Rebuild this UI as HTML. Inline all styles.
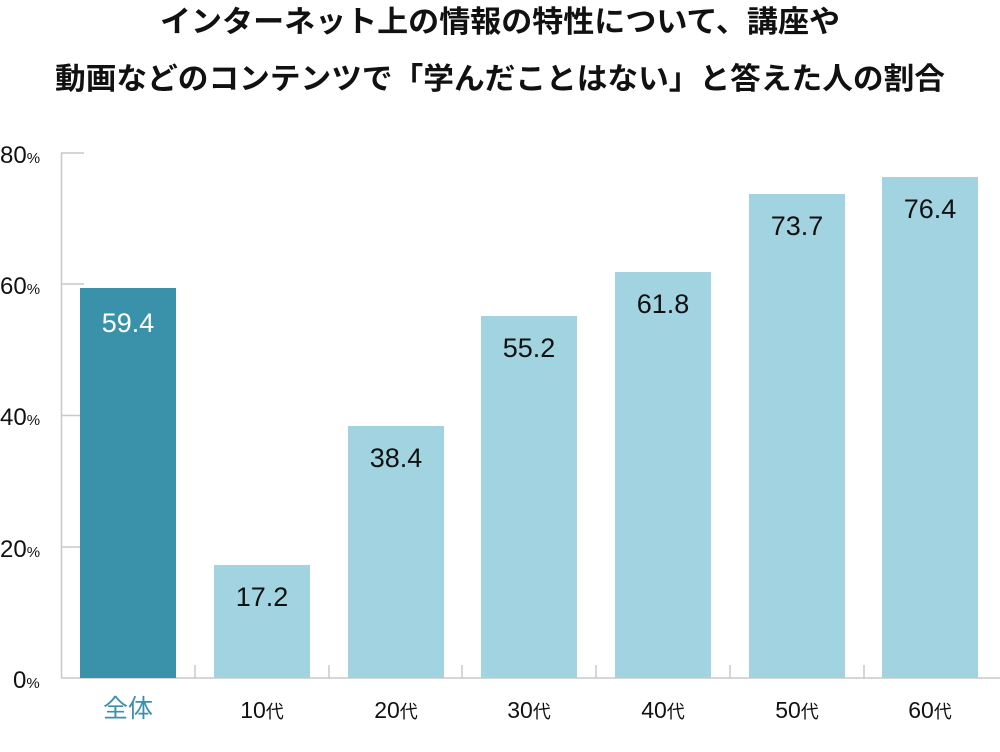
<!DOCTYPE html><html><head><meta charset="utf-8"><style>body{margin:0;background:#fff}</style></head><body>
<svg width="1000" height="747" xmlns="http://www.w3.org/2000/svg" style="font-family:'Liberation Sans','Noto Sans CJK JP',sans-serif">
<text x="160" y="32" font-size="30" font-weight="bold" fill="#111" textLength="680" lengthAdjust="spacingAndGlyphs" font-family="'Noto Sans CJK JP',sans-serif">インターネット上の情報の特性について、講座や</text>
<text x="55" y="89" font-size="30" font-weight="bold" fill="#111" textLength="890" lengthAdjust="spacingAndGlyphs" font-family="'Noto Sans CJK JP',sans-serif">動画などのコンテンツで「学んだことはない」と答えた人の割合</text>
<g stroke="#c8c8c8" stroke-width="1.5" fill="none">
<line x1="61.5" y1="153" x2="61.5" y2="678"/>
<line x1="61" y1="678" x2="1000" y2="678"/>
<line x1="61" y1="153" x2="84" y2="153"/>
<line x1="61" y1="284" x2="84" y2="284"/>
<line x1="61" y1="415.5" x2="84" y2="415.5"/>
<line x1="61" y1="547" x2="84" y2="547"/>
<line x1="195" y1="665" x2="195" y2="678"/><line x1="329" y1="665" x2="329" y2="678"/><line x1="462" y1="665" x2="462" y2="678"/><line x1="596" y1="665" x2="596" y2="678"/><line x1="730" y1="665" x2="730" y2="678"/><line x1="864" y1="665" x2="864" y2="678"/>
</g>
<g font-size="24" fill="#111"><text x="0" y="163">80<tspan font-size="15">%</tspan></text><text x="0" y="294">60<tspan font-size="15">%</tspan></text><text x="0" y="425">40<tspan font-size="15">%</tspan></text><text x="0" y="557">20<tspan font-size="15">%</tspan></text><text x="13" y="688">0<tspan font-size="15">%</tspan></text></g>
<rect x="80" y="288" width="96" height="390" fill="#3a92aa"/>
<g fill="#a2d3e0">
<rect x="214" y="565" width="96" height="113"/><rect x="348" y="426" width="96" height="252"/><rect x="481" y="316" width="96" height="362"/><rect x="615" y="272" width="96" height="406"/><rect x="749" y="194" width="96" height="484"/><rect x="882" y="177" width="96" height="501"/></g>
<g font-size="27" text-anchor="middle" fill="#111">
<text x="128" y="332" fill="#fff">59.4</text><text x="262" y="606">17.2</text><text x="396" y="467">38.4</text><text x="529" y="357">55.2</text><text x="663" y="313">61.8</text><text x="797" y="235">73.7</text><text x="930" y="218">76.4</text></g>
<g font-size="23" text-anchor="middle" fill="#111">
<text x="128" y="717" fill="#3a92aa" font-size="25">全体</text><text x="262" y="718">10<tspan font-size="18">代</tspan></text><text x="396" y="718">20<tspan font-size="18">代</tspan></text><text x="529" y="718">30<tspan font-size="18">代</tspan></text><text x="663" y="718">40<tspan font-size="18">代</tspan></text><text x="797" y="718">50<tspan font-size="18">代</tspan></text><text x="930" y="718">60<tspan font-size="18">代</tspan></text></g>
</svg></body></html>
